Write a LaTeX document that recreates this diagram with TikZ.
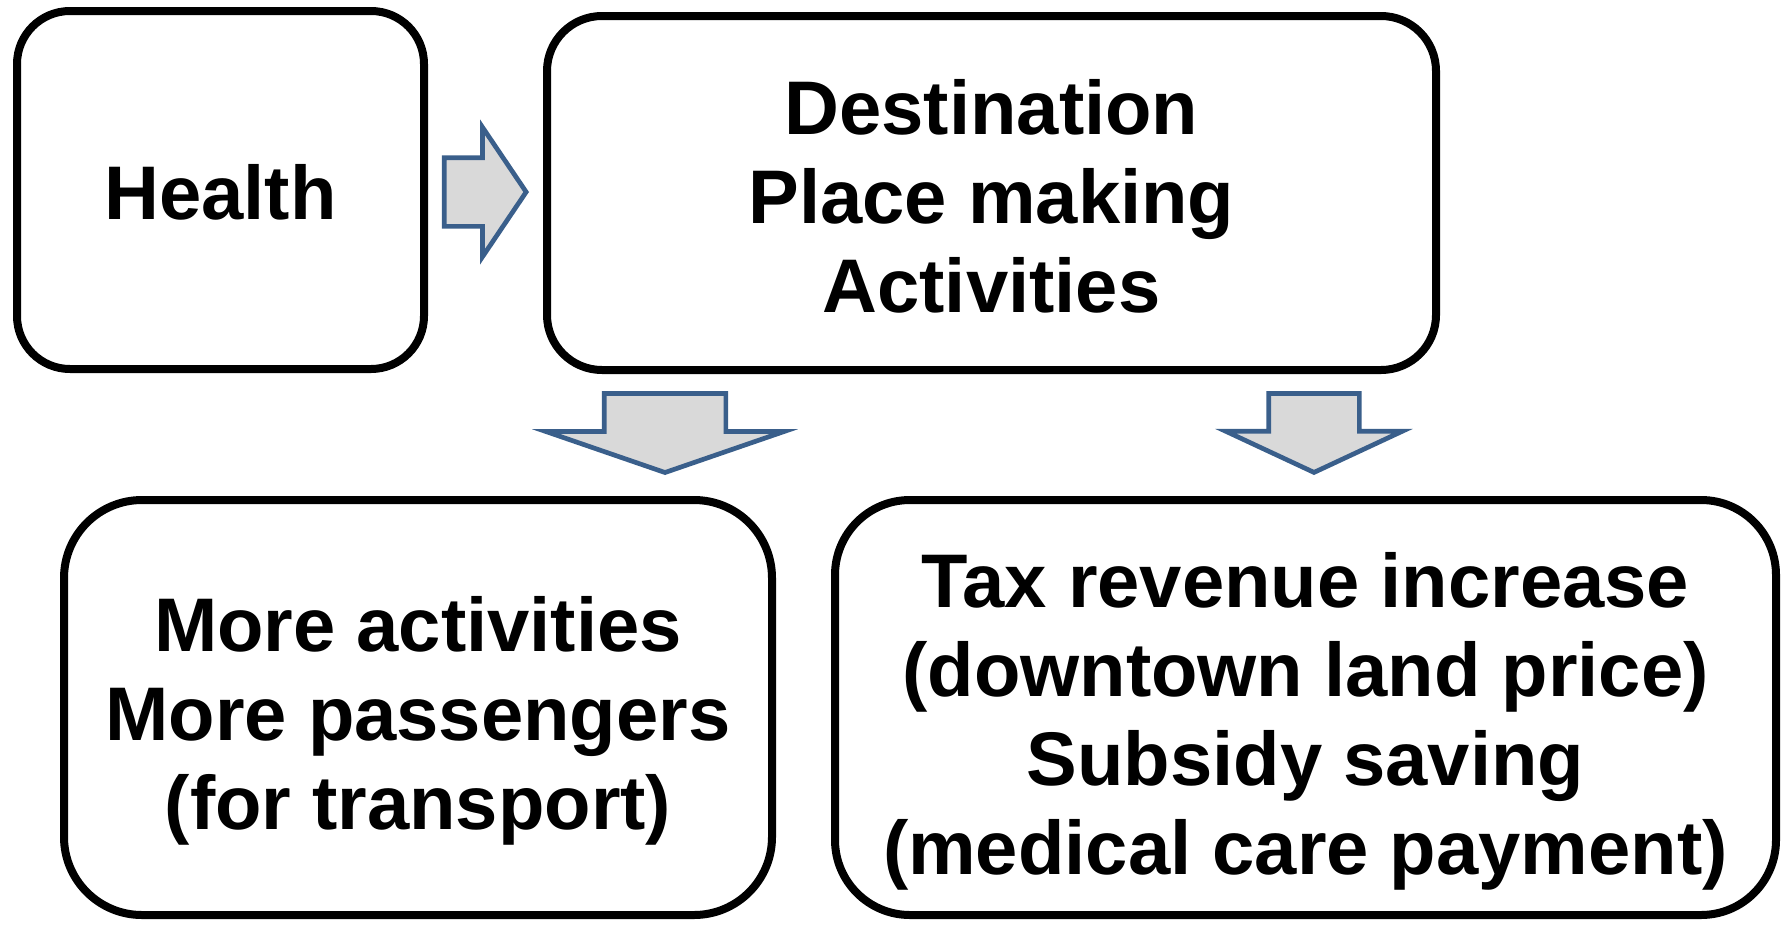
\documentclass[tikz,border=0pt]{standalone}
\usepackage{fontspec}
\setmainfont{Liberation Sans}
\usetikzlibrary{shapes.arrows}
\definecolor{arrowfill}{HTML}{D9D9D9}
\definecolor{arrowline}{HTML}{3A5F8B}

\begin{document}
\begin{tikzpicture}[x=1pt,y=-1pt,
	box_node/.style={draw,line width=8pt,align=center,inner sep=0pt,
		font=\fontsize{76}{89}\selectfont\bfseries},
	arrow_node/.style={single arrow,draw=arrowline,fill=arrowfill,line width=4.7pt,
		inner xsep=0pt,anchor=tip}]
		
		\useasboundingbox (0,0) rectangle (1790,924);
		
		\node[box_node,minimum width=407pt,minimum height=358pt,rounded corners=53pt,text height=70pt,text depth=12pt] (health) at (220.5,190) {Health};
		\node[box_node,minimum width=889pt,minimum height=354pt,rounded corners=55pt,text height=260pt,text depth=22pt] (dest) at (991.5,193) {Destination\\Place making\\Activities};
		\node[box_node,minimum width=708pt,minimum height=415pt,rounded corners=78pt,text height=270pt,text depth=27pt] (more) at (418,707.5) {More activities\\More passengers\\(for transport)};
		\node[box_node,minimum width=941pt,minimum height=415pt,rounded corners=75pt,text height=360pt,text depth=27pt] (tax) at (1305.5,707.5) {Tax revenue increase\\(downtown land price)\\Subsidy saving\\(medical care payment)};
		
		\node[arrow_node,minimum height=82pt,inner ysep=32pt,single arrow head extend=30.5pt,single arrow tip angle=112] (a1) at (529,192) {};
		\node[arrow_node,rotate=-90,minimum height=79pt,inner ysep=58.5pt,single arrow head extend=58pt,single arrow tip angle=142] (a2) at (665,475) {};
		\node[arrow_node,rotate=-90,minimum height=79pt,inner ysep=43pt,single arrow head extend=43pt,single arrow tip angle=130] (a3) at (1314,475) {};
		\end{tikzpicture}
\end{document}
